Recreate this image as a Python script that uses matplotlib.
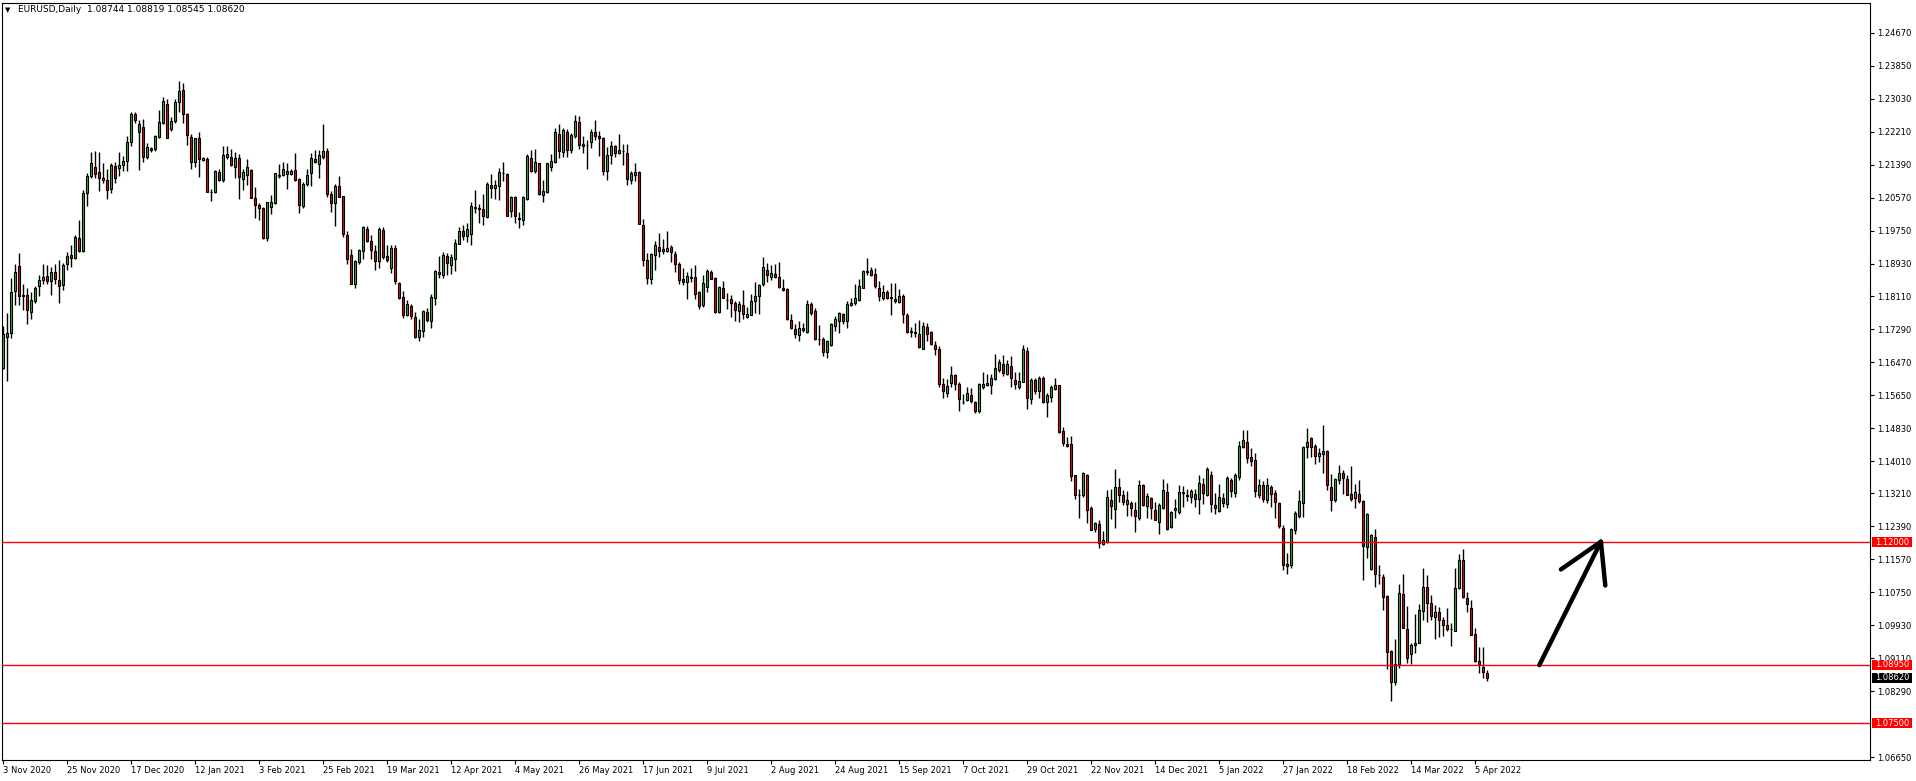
import numpy as np
import matplotlib
matplotlib.use("Agg")
import matplotlib.pyplot as plt
import matplotlib.transforms as mtransforms
from matplotlib.patches import Rectangle

# EURUSD daily bars, 3 Nov 2020 .. 8 Apr 2022
open_ = [
    1.1634, 1.1710, 1.1720, 1.1824, 1.1886, 1.1814, 1.1814, 1.1772, 1.1799, 1.1837,
    1.1851, 1.1861, 1.1850, 1.1871, 1.1851, 1.1839, 1.1891, 1.1914, 1.1907, 1.1956,
    1.1923, 1.2069, 1.2111, 1.2134, 1.2121, 1.2101, 1.2101, 1.2078, 1.2136, 1.2131,
    1.2139, 1.2148, 1.2195, 1.2266, 1.2220, 1.2232, 1.2158, 1.2181, 1.2177, 1.2208,
    1.2242, 1.2290, 1.2227, 1.2247, 1.2294, 1.2324, 1.2264, 1.2208, 1.2146, 1.2204,
    1.2156, 1.2152, 1.2072, 1.2072, 1.2121, 1.2101, 1.2158, 1.2158, 1.2134, 1.2156,
    1.2103, 1.2113, 1.2126, 1.2057, 1.2039, 1.2030, 1.1956, 1.2034, 1.2043, 1.2111,
    1.2113, 1.2124, 1.2116, 1.2126, 1.2102, 1.2035, 1.2090, 1.2117, 1.2152, 1.2140,
    1.2157, 1.2173, 1.2067, 1.2044, 1.2086, 1.2060, 1.1964, 1.1914, 1.1843, 1.1897,
    1.1925, 1.1979, 1.1950, 1.1923, 1.1898, 1.1976, 1.1912, 1.1883, 1.1931, 1.1845,
    1.1809, 1.1764, 1.1787, 1.1760, 1.1711, 1.1724, 1.1772, 1.1750, 1.1806, 1.1868,
    1.1864, 1.1911, 1.1889, 1.1905, 1.1942, 1.1975, 1.1962, 1.1967, 1.2032, 1.2032,
    1.2028, 1.2008, 1.2089, 1.2081, 1.2086, 1.2118, 1.2115, 1.2024, 1.2059, 1.2005,
    1.2000, 1.2054, 1.2156, 1.2123, 1.2143, 1.2063, 1.2070, 1.2133, 1.2146, 1.2214,
    1.2171, 1.2220, 1.2176, 1.2210, 1.2245, 1.2191, 1.2188, 1.2195, 1.2220, 1.2210,
    1.2206, 1.2123, 1.2162, 1.2185, 1.2167, 1.2172, 1.2168, 1.2101, 1.2113, 1.2121,
    1.1990, 1.1901, 1.1854, 1.1913, 1.1933, 1.1923, 1.1925, 1.1933, 1.1916, 1.1893,
    1.1854, 1.1846, 1.1858, 1.1859, 1.1822, 1.1789, 1.1835, 1.1872, 1.1857, 1.1772,
    1.1831, 1.1802, 1.1805, 1.1795, 1.1775, 1.1789, 1.1760, 1.1766, 1.1799, 1.1812,
    1.1841, 1.1878, 1.1860, 1.1866, 1.1859, 1.1832, 1.1829, 1.1752, 1.1730, 1.1715,
    1.1727, 1.1723, 1.1792, 1.1775, 1.1705, 1.1705, 1.1673, 1.1690, 1.1737, 1.1751,
    1.1767, 1.1750, 1.1789, 1.1794, 1.1802, 1.1833, 1.1873, 1.1876, 1.1866, 1.1832,
    1.1808, 1.1822, 1.1809, 1.1805, 1.1798, 1.1812, 1.1765, 1.1723, 1.1723, 1.1718,
    1.1681, 1.1735, 1.1723, 1.1690, 1.1681, 1.1594, 1.1572, 1.1597, 1.1615, 1.1594,
    1.1549, 1.1553, 1.1567, 1.1548, 1.1527, 1.1586, 1.1591, 1.1590, 1.1605, 1.1627,
    1.1644, 1.1619, 1.1638, 1.1604, 1.1585, 1.1599, 1.1676, 1.1556, 1.1602, 1.1577,
    1.1609, 1.1548, 1.1560, 1.1581, 1.1590, 1.1476, 1.1445, 1.1443, 1.1366, 1.1318,
    1.1317, 1.1367, 1.1284, 1.1232, 1.1245, 1.1195, 1.1201, 1.1304, 1.1282, 1.1337,
    1.1317, 1.1296, 1.1297, 1.1280, 1.1261, 1.1342, 1.1289, 1.1309, 1.1280, 1.1251,
    1.1286, 1.1325, 1.1237, 1.1280, 1.1276, 1.1325, 1.1314, 1.1311, 1.1320, 1.1306,
    1.1345, 1.1316, 1.1367, 1.1293, 1.1278, 1.1309, 1.1294, 1.1355, 1.1321, 1.1363,
    1.1437, 1.1450, 1.1412, 1.1403, 1.1316, 1.1341, 1.1304, 1.1337, 1.1322, 1.1298,
    1.1235, 1.1141, 1.1142, 1.1229, 1.1266, 1.1298, 1.1437, 1.1458, 1.1438, 1.1413,
    1.1418, 1.1426, 1.1338, 1.1304, 1.1354, 1.1372, 1.1357, 1.1320, 1.1309, 1.1319,
    1.1302, 1.1187, 1.1133, 1.1213, 1.1119, 1.1114, 1.1065, 1.0929, 1.0851, 1.0896,
    1.1072, 1.0983, 1.0921, 1.0943, 1.0950, 1.1028, 1.1089, 1.1049, 1.1014, 1.1027,
    1.1006, 1.0995, 1.0984, 1.0979, 1.1086, 1.1156, 1.1062, 1.1037, 1.0972, 1.0904,
    1.0889, 1.08744,
]
high = [
    1.1737, 1.1770, 1.1857, 1.1891, 1.1919, 1.1843, 1.1832, 1.1822, 1.1837, 1.1864,
    1.1892, 1.1889, 1.1884, 1.1893, 1.1902, 1.1894, 1.1921, 1.1938, 1.1963, 1.2000,
    1.2075, 1.2117, 1.2171, 1.2173, 1.2171, 1.2144, 1.2128, 1.2144, 1.2146, 1.2171,
    1.2161, 1.2209, 1.2270, 1.2270, 1.2251, 1.2253, 1.2194, 1.2184, 1.2212, 1.2274,
    1.2308, 1.2303, 1.2257, 1.2303, 1.2346, 1.2342, 1.2268, 1.2214, 1.2206, 1.2220,
    1.2158, 1.2158, 1.2078, 1.2126, 1.2128, 1.2185, 1.2185, 1.2179, 1.2171, 1.2165,
    1.2129, 1.2153, 1.2128, 1.2084, 1.2043, 1.2033, 1.2047, 1.2063, 1.2119, 1.2140,
    1.2146, 1.2144, 1.2128, 1.2167, 1.2105, 1.2095, 1.2129, 1.2169, 1.2176, 1.2175,
    1.2241, 1.2181, 1.2074, 1.2091, 1.2110, 1.2062, 1.1975, 1.1928, 1.1902, 1.1928,
    1.1987, 1.1987, 1.1963, 1.1940, 1.1985, 1.1985, 1.1938, 1.1940, 1.1940, 1.1847,
    1.1824, 1.1802, 1.1793, 1.1773, 1.1756, 1.1777, 1.1783, 1.1818, 1.1876, 1.1912,
    1.1921, 1.1919, 1.1917, 1.1955, 1.1985, 1.1990, 1.1993, 1.2045, 1.2077, 1.2040,
    1.2067, 1.2096, 1.2115, 1.2101, 1.2131, 1.2146, 1.2117, 1.2062, 1.2062, 1.2022,
    1.2062, 1.2166, 1.2176, 1.2177, 1.2144, 1.2101, 1.2144, 1.2166, 1.2231, 1.2241,
    1.2231, 1.2228, 1.2218, 1.2262, 1.2260, 1.2210, 1.2200, 1.2227, 1.2250, 1.2223,
    1.2208, 1.2184, 1.2198, 1.2189, 1.2214, 1.2191, 1.2191, 1.2122, 1.2144, 1.2123,
    1.2003, 1.1920, 1.1920, 1.1950, 1.1968, 1.1954, 1.1973, 1.1938, 1.1925, 1.1897,
    1.1882, 1.1872, 1.1883, 1.1890, 1.1824, 1.1864, 1.1879, 1.1877, 1.1859, 1.1837,
    1.1850, 1.1820, 1.1814, 1.1799, 1.1799, 1.1827, 1.1785, 1.1816, 1.1846, 1.1843,
    1.1908, 1.1894, 1.1890, 1.1893, 1.1897, 1.1855, 1.1831, 1.1767, 1.1742, 1.1750,
    1.1746, 1.1802, 1.1797, 1.1783, 1.1740, 1.1711, 1.1703, 1.1746, 1.1762, 1.1773,
    1.1771, 1.1799, 1.1807, 1.1842, 1.1854, 1.1876, 1.1907, 1.1884, 1.1883, 1.1849,
    1.1839, 1.1826, 1.1845, 1.1844, 1.1829, 1.1816, 1.1769, 1.1735, 1.1746, 1.1752,
    1.1747, 1.1746, 1.1724, 1.1700, 1.1688, 1.1607, 1.1605, 1.1639, 1.1619, 1.1599,
    1.1569, 1.1585, 1.1583, 1.1552, 1.1596, 1.1622, 1.1618, 1.1618, 1.1668, 1.1655,
    1.1666, 1.1653, 1.1663, 1.1623, 1.1623, 1.1690, 1.1686, 1.1608, 1.1609, 1.1614,
    1.1614, 1.1571, 1.1591, 1.1607, 1.1591, 1.1486, 1.1461, 1.1463, 1.1367, 1.1331,
    1.1374, 1.1370, 1.1289, 1.1251, 1.1256, 1.1228, 1.1330, 1.1332, 1.1381, 1.1359,
    1.1330, 1.1327, 1.1303, 1.1299, 1.1355, 1.1344, 1.1321, 1.1313, 1.1299, 1.1298,
    1.1358, 1.1347, 1.1278, 1.1306, 1.1343, 1.1340, 1.1332, 1.1332, 1.1332, 1.1367,
    1.1360, 1.1387, 1.1377, 1.1322, 1.1344, 1.1322, 1.1364, 1.1360, 1.1372, 1.1451,
    1.1480, 1.1480, 1.1433, 1.1422, 1.1356, 1.1353, 1.1360, 1.1342, 1.1329, 1.1301,
    1.1243, 1.1173, 1.1235, 1.1278, 1.1330, 1.1439, 1.1483, 1.1461, 1.1443, 1.1435,
    1.1492, 1.1428, 1.1369, 1.1359, 1.1393, 1.1379, 1.1367, 1.1389, 1.1345, 1.1355,
    1.1305, 1.1273, 1.1219, 1.1233, 1.1143, 1.1121, 1.1068, 1.0931, 1.0958, 1.1095,
    1.1121, 1.1042, 1.0948, 1.1020, 1.1047, 1.1136, 1.1119, 1.1069, 1.1044, 1.1039,
    1.1014, 1.1037, 1.0999, 1.1136, 1.1171, 1.1183, 1.1077, 1.1055, 1.0987, 1.0939,
    1.0938, 1.08819,
]
low = [
    1.1630, 1.1601, 1.1707, 1.1791, 1.1791, 1.1777, 1.1742, 1.1756, 1.1796, 1.1812,
    1.1841, 1.1843, 1.1814, 1.1843, 1.1796, 1.1828, 1.1878, 1.1884, 1.1903, 1.1921,
    1.1921, 1.2035, 1.2105, 1.2105, 1.2074, 1.2093, 1.2054, 1.2068, 1.2093, 1.2110,
    1.2124, 1.2124, 1.2185, 1.2243, 1.2125, 1.2146, 1.2154, 1.2171, 1.2173, 1.2204,
    1.2239, 1.2204, 1.2223, 1.2242, 1.2270, 1.2242, 1.2187, 1.2128, 1.2134, 1.2107,
    1.2149, 1.2070, 1.2049, 1.2068, 1.2099, 1.2096, 1.2154, 1.2136, 1.2105, 1.2054,
    1.2076, 1.2088, 1.2055, 1.2006, 1.2000, 1.1955, 1.1950, 1.2016, 1.2041, 1.2106,
    1.2111, 1.2078, 1.2113, 1.2099, 1.2019, 1.2031, 1.2086, 1.2086, 1.2144, 1.2106,
    1.2153, 1.2058, 1.2022, 1.1987, 1.2058, 1.1959, 1.1893, 1.1841, 1.1831, 1.1893,
    1.1905, 1.1946, 1.1905, 1.1878, 1.1883, 1.1905, 1.1897, 1.1870, 1.1843, 1.1804,
    1.1758, 1.1762, 1.1756, 1.1707, 1.1700, 1.1709, 1.1748, 1.1733, 1.1791, 1.1857,
    1.1857, 1.1864, 1.1867, 1.1875, 1.1942, 1.1952, 1.1946, 1.1940, 1.2018, 1.1994,
    1.1989, 1.2006, 1.2056, 1.2053, 1.2051, 1.2097, 1.2010, 1.2008, 1.1994, 1.1981,
    1.1989, 1.2052, 1.2121, 1.2118, 1.2063, 1.2047, 1.2068, 1.2122, 1.2143, 1.2155,
    1.2157, 1.2158, 1.2167, 1.2204, 1.2177, 1.2169, 1.2128, 1.2180, 1.2199, 1.2161,
    1.2113, 1.2101, 1.2140, 1.2158, 1.2165, 1.2138, 1.2088, 1.2091, 1.2097, 1.1991,
    1.1887, 1.1843, 1.1843, 1.1878, 1.1908, 1.1916, 1.1921, 1.1897, 1.1872, 1.1843,
    1.1839, 1.1804, 1.1847, 1.1804, 1.1780, 1.1785, 1.1821, 1.1854, 1.1770, 1.1769,
    1.1806, 1.1781, 1.1759, 1.1751, 1.1748, 1.1756, 1.1758, 1.1765, 1.1769, 1.1768,
    1.1837, 1.1847, 1.1853, 1.1856, 1.1831, 1.1824, 1.1752, 1.1730, 1.1707, 1.1701,
    1.1723, 1.1721, 1.1764, 1.1702, 1.1690, 1.1662, 1.1659, 1.1688, 1.1725, 1.1721,
    1.1742, 1.1732, 1.1787, 1.1789, 1.1799, 1.1831, 1.1864, 1.1862, 1.1833, 1.1799,
    1.1802, 1.1804, 1.1766, 1.1795, 1.1795, 1.1746, 1.1719, 1.1711, 1.1711, 1.1682,
    1.1680, 1.1701, 1.1690, 1.1665, 1.1586, 1.1558, 1.1561, 1.1585, 1.1578, 1.1527,
    1.1543, 1.1550, 1.1546, 1.1522, 1.1522, 1.1581, 1.1589, 1.1568, 1.1603, 1.1624,
    1.1614, 1.1616, 1.1587, 1.1581, 1.1581, 1.1598, 1.1531, 1.1544, 1.1568, 1.1558,
    1.1546, 1.1511, 1.1548, 1.1578, 1.1472, 1.1439, 1.1436, 1.1352, 1.1306, 1.1261,
    1.1313, 1.1247, 1.1229, 1.1224, 1.1186, 1.1192, 1.1199, 1.1257, 1.1234, 1.1301,
    1.1292, 1.1264, 1.1264, 1.1224, 1.1256, 1.1290, 1.1261, 1.1257, 1.1255, 1.1219,
    1.1282, 1.1231, 1.1235, 1.1260, 1.1270, 1.1288, 1.1303, 1.1297, 1.1288, 1.1271,
    1.1296, 1.1315, 1.1276, 1.1269, 1.1275, 1.1288, 1.1286, 1.1312, 1.1311, 1.1354,
    1.1433, 1.1396, 1.1389, 1.1313, 1.1309, 1.1301, 1.1297, 1.1288, 1.1261, 1.1235,
    1.1131, 1.1120, 1.1136, 1.1219, 1.1259, 1.1263, 1.1410, 1.1412, 1.1395, 1.1399,
    1.1372, 1.1329, 1.1278, 1.1301, 1.1344, 1.1319, 1.1317, 1.1303, 1.1286, 1.1298,
    1.1106, 1.1161, 1.1130, 1.1088, 1.1096, 1.1032, 1.0884, 1.0806, 1.0845, 1.0888,
    1.0986, 1.0900, 1.0897, 1.0925, 1.0949, 1.1007, 1.1001, 1.1006, 1.0960, 1.0963,
    1.0966, 1.0978, 1.0942, 1.0978, 1.1084, 1.1061, 1.1026, 1.0969, 1.0903, 1.0874,
    1.0863, 1.08545,
]
close = [
    1.1717, 1.1720, 1.1822, 1.1871, 1.1812, 1.1811, 1.1777, 1.1802, 1.1832, 1.1851,
    1.1859, 1.1850, 1.1871, 1.1854, 1.1837, 1.1889, 1.1912, 1.1907, 1.1960, 1.1923,
    1.2069, 1.2111, 1.2144, 1.2115, 1.2106, 1.2105, 1.2077, 1.2138, 1.2106, 1.2138,
    1.2149, 1.2195, 1.2266, 1.2251, 1.2241, 1.2158, 1.2183, 1.2175, 1.2210, 1.2245,
    1.2297, 1.2205, 1.2247, 1.2294, 1.2322, 1.2264, 1.2212, 1.2146, 1.2204, 1.2153,
    1.2150, 1.2072, 1.2071, 1.2124, 1.2101, 1.2163, 1.2166, 1.2138, 1.2156, 1.2109,
    1.2120, 1.2134, 1.2057, 1.2039, 1.2030, 1.1956, 1.2045, 1.2047, 1.2117, 1.2114,
    1.2129, 1.2116, 1.2124, 1.2101, 1.2039, 1.2092, 1.2114, 1.2156, 1.2146, 1.2163,
    1.2173, 1.2066, 1.2044, 1.2086, 1.2059, 1.1967, 1.1905, 1.1843, 1.1898, 1.1926,
    1.1984, 1.1948, 1.1926, 1.1898, 1.1978, 1.1910, 1.1901, 1.1931, 1.1849, 1.1808,
    1.1764, 1.1793, 1.1762, 1.1711, 1.1728, 1.1775, 1.1752, 1.1809, 1.1874, 1.1871,
    1.1913, 1.1895, 1.1908, 1.1945, 1.1975, 1.1962, 1.1978, 1.2035, 1.2033, 1.2028,
    1.2011, 1.2092, 1.2081, 1.2089, 1.2121, 1.2119, 1.2012, 1.2059, 1.2010, 1.2004,
    1.2059, 1.2161, 1.2123, 1.2146, 1.2066, 1.2074, 1.2142, 1.2148, 1.2220, 1.2173,
    1.2224, 1.2176, 1.2213, 1.2247, 1.2187, 1.2185, 1.2187, 1.2220, 1.2210, 1.2204,
    1.2123, 1.2163, 1.2185, 1.2167, 1.2176, 1.2173, 1.2103, 1.2117, 1.2121, 1.1992,
    1.1902, 1.1858, 1.1917, 1.1938, 1.1923, 1.1929, 1.1931, 1.1921, 1.1893, 1.1853,
    1.1846, 1.1862, 1.1859, 1.1818, 1.1787, 1.1845, 1.1874, 1.1855, 1.1773, 1.1834,
    1.1808, 1.1801, 1.1796, 1.1777, 1.1792, 1.1767, 1.1767, 1.1799, 1.1813, 1.1839,
    1.1884, 1.1864, 1.1869, 1.1860, 1.1834, 1.1827, 1.1756, 1.1733, 1.1718, 1.1733,
    1.1733, 1.1792, 1.1771, 1.1704, 1.1704, 1.1673, 1.1699, 1.1743, 1.1755, 1.1770,
    1.1750, 1.1792, 1.1795, 1.1807, 1.1837, 1.1874, 1.1874, 1.1864, 1.1838, 1.1812,
    1.1822, 1.1806, 1.1808, 1.1800, 1.1812, 1.1767, 1.1722, 1.1724, 1.1719, 1.1685,
    1.1737, 1.1718, 1.1693, 1.1680, 1.1594, 1.1575, 1.1589, 1.1616, 1.1594, 1.1555,
    1.1548, 1.1571, 1.1552, 1.1527, 1.1594, 1.1594, 1.1597, 1.1609, 1.1632, 1.1648,
    1.1620, 1.1644, 1.1609, 1.1593, 1.1601, 1.1681, 1.1558, 1.1602, 1.1577, 1.1609,
    1.1548, 1.1565, 1.1585, 1.1591, 1.1474, 1.1447, 1.1440, 1.1365, 1.1317, 1.1317,
    1.1372, 1.1279, 1.1230, 1.1247, 1.1197, 1.1205, 1.1313, 1.1289, 1.1337, 1.1317,
    1.1299, 1.1304, 1.1284, 1.1266, 1.1342, 1.1292, 1.1314, 1.1284, 1.1256, 1.1293,
    1.1330, 1.1233, 1.1275, 1.1285, 1.1325, 1.1321, 1.1318, 1.1327, 1.1306, 1.1346,
    1.1323, 1.1382, 1.1296, 1.1286, 1.1312, 1.1297, 1.1360, 1.1326, 1.1367, 1.1440,
    1.1453, 1.1410, 1.1402, 1.1326, 1.1342, 1.1308, 1.1342, 1.1320, 1.1299, 1.1239,
    1.1142, 1.1146, 1.1233, 1.1272, 1.1303, 1.1436, 1.1448, 1.1437, 1.1415, 1.1421,
    1.1426, 1.1342, 1.1304, 1.1356, 1.1371, 1.1360, 1.1318, 1.1306, 1.1324, 1.1303,
    1.1190, 1.1270, 1.1218, 1.1120, 1.1118, 1.1063, 1.0927, 1.0851, 1.0896, 1.1074,
    1.0987, 1.0911, 1.0943, 1.0948, 1.1030, 1.1089, 1.1049, 1.1016, 1.1027, 1.1007,
    1.0995, 1.0983, 1.0984, 1.1085, 1.1156, 1.1063, 1.1047, 1.0970, 1.0904, 1.0896,
    1.0878, 1.08620,
]

# date labels, one every 16 bars
date_labels = ["3 Nov 2020", "25 Nov 2020", "17 Dec 2020", "12 Jan 2021", "3 Feb 2021",
               "25 Feb 2021", "19 Mar 2021", "12 Apr 2021", "4 May 2021", "26 May 2021",
               "17 Jun 2021", "9 Jul 2021", "2 Aug 2021", "24 Aug 2021", "15 Sep 2021",
               "7 Oct 2021", "29 Oct 2021", "22 Nov 2021", "14 Dec 2021", "5 Jan 2022",
               "27 Jan 2022", "18 Feb 2022", "14 Mar 2022", "5 Apr 2022"]
# 1.07470 sits under the 1.07500 box, so it is left out
price_ticks = [1.24670, 1.23850, 1.23030, 1.22210, 1.21390, 1.20570, 1.19750, 1.18930,
               1.18110, 1.17290, 1.16470, 1.15650, 1.14830, 1.14010, 1.13210, 1.12390,
               1.11570, 1.10750, 1.09930, 1.09110, 1.08290, 1.06650]
levels = [1.12000, 1.08950, 1.07500]
last_price = 1.08620
title = "EURUSD,Daily  1.08744 1.08819 1.08545 1.08620"

# hand-drawn arrow (bar index, price)
arrow_tail = (384.0, 1.0894)
arrow_tip = (399.4, 1.1201)
arrow_left = (389.4, 1.1132)
arrow_right = (400.5, 1.1092)

W, H = 1916, 781
fig = plt.figure(figsize=(W / 100, H / 100), dpi=100)
fig.patch.set_facecolor("white")
ax = fig.add_axes([2 / W, 21 / H, 1868 / W, 757 / H])

o = np.array(open_)
h = np.array(high)
l = np.array(low)
c = np.array(close)
x = np.arange(len(o))
up = c >= o

ax.vlines(x, l, h, color="black", linewidth=1.0, zorder=2)
body_h = np.maximum(np.abs(c - o), 0.00002)
body_b = np.minimum(o, c)
ax.bar(x[up], body_h[up], bottom=body_b[up], width=0.55, color="#3aa83a",
       edgecolor="black", linewidth=0.8, zorder=3)
ax.bar(x[~up], body_h[~up], bottom=body_b[~up], width=0.55, color="#d41010",
       edgecolor="black", linewidth=0.8, zorder=3)

for lv in levels:
    ax.axhline(lv, color="#ff0000", linewidth=1.0, zorder=4)

# arrow
for end in (arrow_tail, arrow_left, arrow_right):
    ax.plot([end[0], arrow_tip[0]], [end[1], arrow_tip[1]], color="black",
            linewidth=3.2, solid_capstyle="round", zorder=5)

ax.set_xlim(-0.325, 466.675)
ax.set_ylim(1.0658, 1.2541)

ax.yaxis.tick_right()
ax.set_yticks(price_ticks)
ax.set_yticklabels([f"{t:.5f}" for t in price_ticks])
ax.tick_params(axis="y", direction="out", length=3, width=0.8, pad=2, labelsize=6)
ax.set_xticks(np.arange(len(date_labels)) * 16)
ax.set_xticklabels(date_labels, ha="left")
ax.tick_params(axis="x", direction="out", length=3, width=0.8, pad=1, labelsize=6)
for s in ax.spines.values():
    s.set_linewidth(0.8)
    s.set_color("black")

# price boxes on the right scale
trans = mtransforms.blended_transform_factory(ax.transAxes, ax.transData)
box_x0 = 1870 / 1868 - 0.0
box_w = 40 / 1868
box_h = 10 / 4020
for lv, fc in [(v, "#ff0000") for v in levels] + [(last_price, "black")]:
    ax.add_patch(Rectangle((1.0011, lv - box_h / 2), box_w, box_h, transform=trans,
                           facecolor=fc, edgecolor="none", clip_on=False, zorder=9))
    ax.text(1.0011 + box_w / 2, lv, f"{lv:.5f}", transform=trans, color="white",
            fontsize=6, va="center", ha="center", clip_on=False, zorder=10)

fig.text(5 / W, 1 - 10 / H, "\u25bc", fontsize=5, va="center", ha="left")
fig.text(18 / W, 1 - 10 / H, title, fontsize=6.5, va="center", ha="left")

fig.savefig("out.png", dpi=100)
